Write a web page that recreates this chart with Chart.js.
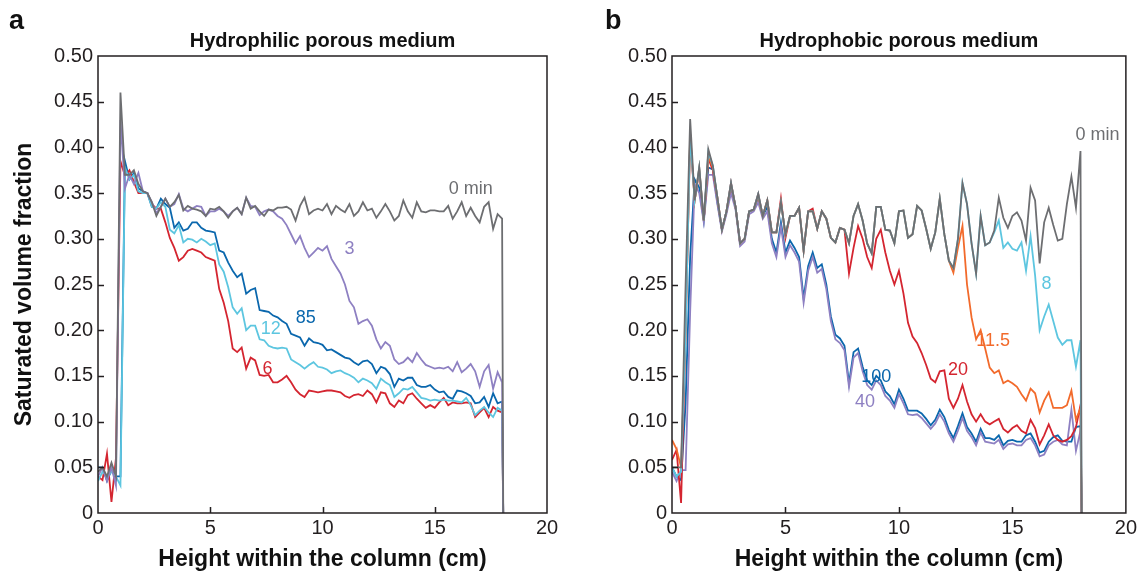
<!DOCTYPE html>
<html>
<head>
<meta charset="utf-8">
<script src="https://cdn.jsdelivr.net/npm/chart.js@4.4.1/dist/chart.umd.min.js"></script>
<style>
  html, body { margin: 0; padding: 0; background: #fff; overflow: hidden; }
  #wrap { position: relative; width: 1137px; height: 575px; }
  .panel { position: absolute; top: 0; }
  #pa { left: 0; }
  #pb { left: 570px; }
</style>
</head>
<body>
<div id="wrap">
  <div class="panel" id="pa"><canvas id="chartA" width="570" height="575"></canvas></div>
  <div class="panel" id="pb"><canvas id="chartB" width="570" height="575"></canvas></div>
</div>
<script>
// height within the column (cm), shared by every profile
const heights = [
  0, 0.2, 0.4, 0.6, 0.8, 1.0, 1.2, 1.4, 1.6, 1.8,
  2.0, 2.2, 2.4, 2.6, 2.8, 3.0, 3.2, 3.4, 3.6, 3.8,
  4.0, 4.2, 4.4, 4.6, 4.8, 5.0, 5.2, 5.4, 5.6, 5.8,
  6.0, 6.2, 6.4, 6.6, 6.8, 7.0, 7.2, 7.4, 7.6, 7.8,
  8.0, 8.2, 8.4, 8.6, 8.8, 9.0, 9.2, 9.4, 9.6, 9.8,
  10.0, 10.2, 10.4, 10.6, 10.8, 11.0, 11.2, 11.4, 11.6, 11.8,
  12.0, 12.2, 12.4, 12.6, 12.8, 13.0, 13.2, 13.4, 13.6, 13.8,
  14.0, 14.2, 14.4, 14.6, 14.8, 15.0, 15.2, 15.4, 15.6, 15.8,
  16.0, 16.2, 16.4, 16.6, 16.8, 17.0, 17.2, 17.4, 17.6, 17.8,
  18.0, 18.05
];

// a: hydrophilic porous medium
const philic0 = [
  0.045, 0.05, 0.04, 0.055, 0.04, 0.46, 0.37, 0.37, 0.375, 0.36,
  0.352, 0.35, 0.34, 0.325, 0.335, 0.344, 0.335, 0.34, 0.348, 0.331,
  0.336, 0.333, 0.332, 0.33, 0.325, 0.333, 0.332, 0.335, 0.33, 0.323,
  0.33, 0.334, 0.327, 0.345, 0.333, 0.336, 0.33, 0.325, 0.332, 0.331,
  0.334, 0.334, 0.335, 0.332, 0.32, 0.336, 0.345, 0.327, 0.331, 0.333,
  0.331, 0.338, 0.327, 0.336, 0.332, 0.329, 0.338, 0.325, 0.33, 0.34,
  0.331, 0.333, 0.323, 0.33, 0.338, 0.33, 0.32, 0.325, 0.342, 0.33,
  0.323, 0.34, 0.33, 0.329, 0.331, 0.331, 0.33, 0.33, 0.336, 0.322,
  0.33, 0.34, 0.325, 0.334, 0.325, 0.318, 0.335, 0.34, 0.311, 0.327,
  0.322, 0
];
const philic3 = [
  0.04, 0.05, 0.035, 0.05, 0.03, 0.43, 0.355, 0.37, 0.36, 0.372,
  0.352, 0.35, 0.34, 0.328, 0.335, 0.344, 0.335, 0.338, 0.349, 0.333,
  0.33, 0.333, 0.336, 0.335, 0.325, 0.33, 0.33, 0.333, 0.33, 0.325,
  0.33, 0.334, 0.327, 0.345, 0.336, 0.335, 0.326, 0.33, 0.332, 0.33,
  0.325, 0.322, 0.315, 0.305, 0.295, 0.303, 0.29, 0.28, 0.285, 0.29,
  0.287, 0.292, 0.278, 0.27, 0.262, 0.25, 0.232, 0.225, 0.207, 0.21,
  0.212, 0.205, 0.19, 0.18, 0.187, 0.183, 0.168, 0.163, 0.165, 0.17,
  0.165, 0.175, 0.168, 0.162, 0.16, 0.158, 0.159, 0.158, 0.16, 0.155,
  0.165, 0.154, 0.158, 0.163, 0.155, 0.138, 0.155, 0.162, 0.136, 0.154,
  0.143, 0
];
const philic6 = [
  0.04, 0.036, 0.065, 0.012, 0.06, 0.385, 0.369, 0.375, 0.362, 0.35,
  0.35, 0.35, 0.338, 0.333, 0.333, 0.318, 0.301, 0.29, 0.276, 0.28,
  0.287, 0.289, 0.287, 0.285, 0.28, 0.278, 0.276, 0.245, 0.23, 0.21,
  0.18, 0.176, 0.181, 0.158, 0.17, 0.167, 0.151, 0.15, 0.151, 0.143,
  0.143, 0.146, 0.15, 0.143, 0.135, 0.13, 0.127, 0.134, 0.133, 0.132,
  0.133, 0.134, 0.134, 0.133, 0.132, 0.128, 0.126, 0.129, 0.13, 0.128,
  0.134, 0.13, 0.121, 0.132, 0.131, 0.12, 0.116, 0.123, 0.12, 0.129,
  0.131, 0.125, 0.12, 0.115, 0.118, 0.115, 0.121, 0.126, 0.118, 0.121,
  0.12, 0.12, 0.121, 0.12, 0.105, 0.11, 0.115, 0.105, 0.116, 0.112,
  0.11, 0
];
const philic12 = [
  0.035, 0.045, 0.04, 0.045, 0.04, 0.03, 0.378, 0.365, 0.37, 0.352,
  0.35, 0.35, 0.335, 0.333, 0.34, 0.335, 0.31, 0.306, 0.315, 0.296,
  0.3, 0.299, 0.296, 0.3, 0.297, 0.293, 0.295, 0.272, 0.264, 0.247,
  0.225, 0.218, 0.224, 0.2, 0.205, 0.205, 0.19, 0.189, 0.183, 0.181,
  0.18, 0.181, 0.18, 0.168, 0.165, 0.162, 0.158, 0.162, 0.165, 0.16,
  0.159, 0.157, 0.153, 0.155, 0.156, 0.153, 0.151, 0.148, 0.143, 0.147,
  0.145, 0.142, 0.136, 0.147, 0.143, 0.14, 0.127, 0.131, 0.136, 0.135,
  0.138, 0.132, 0.126, 0.125, 0.123, 0.124, 0.123, 0.124, 0.123, 0.123,
  0.122, 0.121, 0.126, 0.118, 0.107, 0.112, 0.116, 0.11, 0.105, 0.115,
  0.112, 0
];
const philic85 = [
  0.05, 0.05, 0.035, 0.047, 0.04, 0.04, 0.385, 0.365, 0.372, 0.355,
  0.352, 0.35, 0.335, 0.333, 0.344, 0.338, 0.334, 0.312, 0.318, 0.309,
  0.311, 0.318, 0.318, 0.312, 0.309, 0.308, 0.307, 0.287, 0.285, 0.274,
  0.265, 0.258, 0.262, 0.24, 0.244, 0.246, 0.222, 0.221, 0.22, 0.216,
  0.214, 0.21, 0.207, 0.196, 0.194, 0.192, 0.183, 0.191, 0.187, 0.186,
  0.184, 0.178, 0.179, 0.176, 0.173, 0.17, 0.169, 0.165, 0.162, 0.166,
  0.167, 0.163, 0.153, 0.16, 0.158, 0.152, 0.138, 0.147, 0.145, 0.148,
  0.148, 0.14, 0.138, 0.138, 0.14, 0.135, 0.132, 0.133, 0.127, 0.125,
  0.134, 0.133, 0.131, 0.128, 0.12, 0.121, 0.127, 0.116, 0.131, 0.12,
  0.122, 0
];

// b: hydrophobic porous medium
const phobic0 = [
  0.05, 0.05, 0.05, 0.25, 0.431, 0.342, 0.378, 0.32, 0.398, 0.38,
  0.345, 0.31, 0.33, 0.361, 0.335, 0.295, 0.3, 0.33, 0.332, 0.349,
  0.325, 0.342, 0.307, 0.307, 0.34, 0.305, 0.325, 0.325, 0.334, 0.287,
  0.33, 0.33, 0.311, 0.33, 0.322, 0.301, 0.296, 0.312, 0.31, 0.295,
  0.325, 0.338, 0.32, 0.295, 0.284, 0.335, 0.335, 0.31, 0.309, 0.295,
  0.33, 0.331, 0.301, 0.305, 0.336, 0.331, 0.311, 0.289, 0.307, 0.344,
  0.305, 0.276, 0.268, 0.3, 0.361, 0.338, 0.295, 0.262, 0.325, 0.293,
  0.296, 0.309, 0.345, 0.323, 0.312, 0.325, 0.329, 0.32, 0.298, 0.356,
  0.342, 0.273, 0.318, 0.334, 0.315, 0.298, 0.3, 0.338, 0.368, 0.334,
  0.396, 0
];
const phobic8 = [
  0.05, 0.04, 0.045, 0.2, 0.413, 0.342, 0.378, 0.32, 0.395, 0.38,
  0.345, 0.31, 0.33, 0.361, 0.335, 0.295, 0.3, 0.33, 0.332, 0.349,
  0.325, 0.342, 0.307, 0.307, 0.34, 0.305, 0.325, 0.325, 0.334, 0.287,
  0.33, 0.33, 0.311, 0.33, 0.322, 0.301, 0.296, 0.312, 0.31, 0.295,
  0.325, 0.338, 0.32, 0.295, 0.284, 0.335, 0.335, 0.31, 0.309, 0.295,
  0.33, 0.331, 0.301, 0.305, 0.336, 0.331, 0.311, 0.289, 0.307, 0.344,
  0.305, 0.276, 0.268, 0.3, 0.361, 0.338, 0.295, 0.262, 0.325, 0.293,
  0.296, 0.307, 0.32, 0.29, 0.296, 0.289, 0.287, 0.296, 0.265, 0.303,
  0.26, 0.2, 0.215, 0.228, 0.21, 0.192, 0.184, 0.189, 0.189, 0.16,
  0.189, 0
];
const phobic11_5 = [
  0.08, 0.07, 0.05, 0.2, 0.415, 0.342, 0.378, 0.32, 0.39, 0.378,
  0.345, 0.31, 0.33, 0.36, 0.335, 0.295, 0.3, 0.33, 0.332, 0.347,
  0.325, 0.342, 0.307, 0.307, 0.34, 0.305, 0.325, 0.325, 0.334, 0.287,
  0.33, 0.33, 0.311, 0.33, 0.322, 0.301, 0.296, 0.312, 0.31, 0.295,
  0.325, 0.338, 0.32, 0.295, 0.284, 0.335, 0.335, 0.31, 0.309, 0.295,
  0.33, 0.331, 0.301, 0.305, 0.336, 0.331, 0.311, 0.289, 0.307, 0.344,
  0.305, 0.276, 0.263, 0.29, 0.314, 0.25, 0.214, 0.19, 0.2, 0.18,
  0.159, 0.153, 0.156, 0.142, 0.145, 0.142, 0.138, 0.13, 0.123, 0.136,
  0.131, 0.11, 0.123, 0.132, 0.115, 0.115, 0.115, 0.118, 0.134, 0.102,
  0.115, 0
];
const phobic20 = [
  0.058, 0.069, 0.011, 0.2, 0.41, 0.342, 0.375, 0.32, 0.388, 0.375,
  0.345, 0.31, 0.33, 0.361, 0.335, 0.295, 0.3, 0.33, 0.332, 0.349,
  0.325, 0.342, 0.307, 0.307, 0.344, 0.301, 0.325, 0.325, 0.334, 0.287,
  0.33, 0.333, 0.311, 0.33, 0.322, 0.301, 0.296, 0.312, 0.31, 0.262,
  0.29, 0.314, 0.3, 0.28, 0.268, 0.3, 0.31, 0.285, 0.265, 0.25,
  0.265, 0.24, 0.208, 0.193, 0.186, 0.175, 0.162, 0.147, 0.143, 0.155,
  0.156, 0.125, 0.115, 0.125, 0.14, 0.122, 0.108, 0.1, 0.108, 0.1,
  0.097, 0.1, 0.103, 0.092, 0.088, 0.093, 0.096, 0.09, 0.087, 0.102,
  0.093, 0.075, 0.085, 0.097, 0.085, 0.08, 0.078, 0.08, 0.084, 0.094,
  0.118, 0
];
const phobic40 = [
  0.045, 0.035, 0.047, 0.047, 0.22, 0.36, 0.35, 0.318, 0.37, 0.37,
  0.338, 0.308, 0.327, 0.35, 0.332, 0.292, 0.297, 0.327, 0.33, 0.34,
  0.322, 0.33, 0.295, 0.28, 0.313, 0.28, 0.293, 0.285, 0.275, 0.23,
  0.265, 0.28, 0.263, 0.267, 0.245, 0.21, 0.19, 0.186, 0.178, 0.138,
  0.17, 0.175, 0.155, 0.14, 0.135, 0.145, 0.14, 0.128, 0.123, 0.115,
  0.13, 0.12, 0.108, 0.107, 0.108, 0.104, 0.098, 0.092, 0.098, 0.108,
  0.1, 0.087, 0.078, 0.09, 0.104, 0.09, 0.083, 0.074, 0.088, 0.078,
  0.077, 0.076, 0.08, 0.07, 0.075, 0.076, 0.074, 0.074, 0.08, 0.082,
  0.074, 0.062, 0.064, 0.074, 0.078, 0.08, 0.075, 0.074, 0.113, 0.068,
  0.09, 0
];
const phobic100 = [
  0.05, 0.04, 0.036, 0.12, 0.28, 0.365, 0.356, 0.32, 0.378, 0.376,
  0.34, 0.31, 0.33, 0.355, 0.335, 0.295, 0.3, 0.33, 0.332, 0.345,
  0.325, 0.335, 0.3, 0.285, 0.318, 0.285, 0.298, 0.29, 0.28, 0.235,
  0.27, 0.285, 0.268, 0.272, 0.25, 0.215, 0.195, 0.191, 0.183, 0.142,
  0.176, 0.18, 0.16, 0.145, 0.14, 0.15, 0.145, 0.133, 0.128, 0.119,
  0.135, 0.125, 0.112, 0.112, 0.112, 0.109, 0.103, 0.096, 0.102, 0.113,
  0.105, 0.091, 0.082, 0.095, 0.109, 0.094, 0.087, 0.078, 0.092, 0.082,
  0.082, 0.08, 0.085, 0.074, 0.079, 0.08, 0.078, 0.078, 0.085, 0.087,
  0.078, 0.066, 0.068, 0.078, 0.083, 0.085, 0.079, 0.078, 0.078, 0.094,
  0.095, 0
];

const xTicks = [0, 5, 10, 15, 20];
const yTicks = [0, 0.05, 0.1, 0.15, 0.2, 0.25, 0.3, 0.35, 0.4, 0.45, 0.5];

const GRAY = '#6d6e71', PURPLE = '#8e80c2', BLUE = '#0a67ad',
      CYAN = '#5dc6e0', RED = '#d42530', ORANGE = '#f26a2b', INK = '#231f20';

// curve labels, placed in data units
const notesA = [
  { text: '0 min', x: 16.6, y: 0.354, color: GRAY },
  { text: '3', x: 11.2, y: 0.289, color: PURPLE },
  { text: '85', x: 9.25, y: 0.213, color: BLUE },
  { text: '12', x: 7.7, y: 0.201, color: CYAN },
  { text: '6', x: 7.55, y: 0.158, color: RED }
];
const notesB = [
  { text: '0 min', x: 18.75, y: 0.413, color: GRAY },
  { text: '8', x: 16.5, y: 0.251, color: CYAN },
  { text: '11.5', x: 14.15, y: 0.188, color: ORANGE },
  { text: '20', x: 12.6, y: 0.156, color: RED },
  { text: '100', x: 9.0, y: 0.149, color: BLUE },
  { text: '40', x: 8.5, y: 0.121, color: PURPLE }
];

function profile(vals, color) {
  return {
    data: heights.map((h, i) => ({ x: h, y: vals[i] })),
    borderColor: color,
    borderWidth: 1.8,
    pointRadius: 0,
    fill: false,
    tension: 0
  };
}

const deco = {
  id: 'deco',
  afterDatasetsDraw(chart, args, o) {
    const { ctx, chartArea: a, scales: { x, y } } = chart;
    ctx.save();
    ctx.strokeStyle = INK;
    ctx.lineWidth = 1.5;
    ctx.strokeRect(a.left, a.top, a.right - a.left, a.bottom - a.top);
    ctx.beginPath();
    xTicks.slice(1, -1).forEach(v => {
      const px = Math.round(x.getPixelForValue(v)) + 0.5;
      ctx.moveTo(px, a.bottom); ctx.lineTo(px, a.bottom - 6);
    });
    yTicks.slice(1, -1).forEach(v => {
      const py = Math.round(y.getPixelForValue(v)) + 0.5;
      ctx.moveTo(a.left, py); ctx.lineTo(a.left + 6, py);
    });
    ctx.stroke();

    ctx.font = '18px "Liberation Sans", Arial, sans-serif';
    ctx.textAlign = 'center';
    ctx.textBaseline = 'middle';
    o.notes.forEach(n => {
      ctx.fillStyle = n.color;
      ctx.fillText(n.text, x.getPixelForValue(n.x), y.getPixelForValue(n.y));
    });

    const mid = (a.left + a.right) / 2;
    ctx.fillStyle = '#111';
    ctx.textBaseline = 'alphabetic';
    ctx.font = 'bold 20px "Liberation Sans", Arial, sans-serif';
    ctx.fillText(o.title, mid, 47);
    ctx.font = 'bold 23px "Liberation Sans", Arial, sans-serif';
    ctx.fillText('Height within the column (cm)', mid, 566);
    ctx.textAlign = 'left';
    ctx.font = 'bold 27px "Liberation Sans", Arial, sans-serif';
    ctx.fillText(o.letter, o.letterX, 29);
    if (o.yTitle) {
      ctx.translate(25, (a.top + a.bottom) / 2);
      ctx.rotate(-Math.PI / 2);
      ctx.textAlign = 'center';
      ctx.textBaseline = 'middle';
      ctx.font = 'bold 23px "Liberation Sans", Arial, sans-serif';
      ctx.fillText(o.yTitle, 0, 0);
    }
    ctx.restore();
  }
};

function makeChart(id, datasets, yWidth, rightPad, decoOpts) {
  return new Chart(document.getElementById(id), {
    type: 'line',
    data: { datasets },
    options: {
      responsive: false,
      animation: false,
      layout: { padding: { top: 56, right: rightPad, left: 0, bottom: 0 } },
      plugins: { legend: { display: false }, tooltip: { enabled: false }, deco: decoOpts },
      scales: {
        x: {
          type: 'linear', min: 0, max: 20,
          afterBuildTicks: s => { s.ticks = xTicks.map(v => ({ value: v })); },
          afterFit: s => { s.height = 62; },
          grid: { display: false, drawTicks: false },
          border: { display: false },
          ticks: { padding: 3, color: INK, font: { family: '"Liberation Sans", Arial', size: 20 },
                   maxRotation: 0, callback: v => String(v) }
        },
        y: {
          min: 0, max: 0.5,
          afterBuildTicks: s => { s.ticks = yTicks.map(v => ({ value: v })); },
          afterFit: s => { s.width = yWidth; },
          grid: { display: false, drawTicks: false },
          border: { display: false },
          ticks: { padding: 5, color: INK, font: { family: '"Liberation Sans", Arial', size: 20 },
                   callback: v => v === 0 ? '0' : v.toFixed(2) }
        }
      }
    },
    plugins: [deco]
  });
}

makeChart('chartA', [
  profile(philic0, GRAY),
  profile(philic3, PURPLE),
  profile(philic12, CYAN),
  profile(philic6, RED),
  profile(philic85, BLUE)
], 98, 23, { title: 'Hydrophilic porous medium', letter: 'a', letterX: 9, yTitle: 'Saturated volume fraction', notes: notesA });

makeChart('chartB', [
  profile(phobic0, GRAY),
  profile(phobic8, CYAN),
  profile(phobic11_5, ORANGE),
  profile(phobic20, RED),
  profile(phobic40, PURPLE),
  profile(phobic100, BLUE)
], 102, 11, { title: 'Hydrophobic porous medium', letter: 'b', letterX: 35, yTitle: null, notes: notesB });
</script>
</body>
</html>
